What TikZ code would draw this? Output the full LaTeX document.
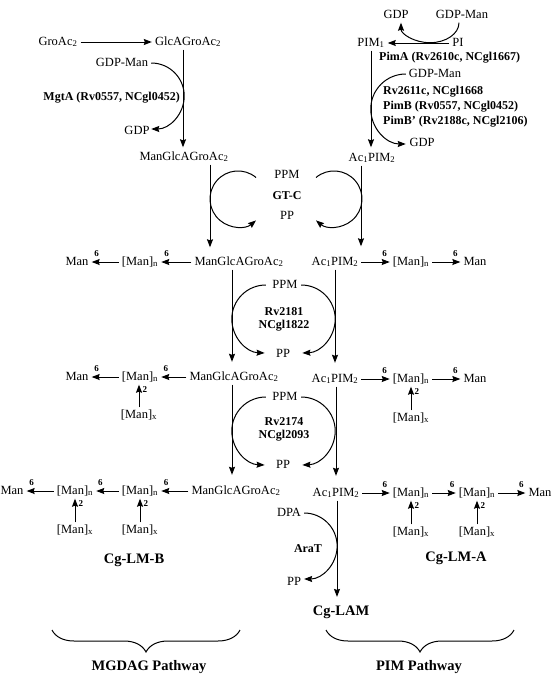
\documentclass[tikz,border=0pt]{standalone}
\usepackage{fontspec}
\setmainfont{Liberation Serif}
\usetikzlibrary{arrows.meta,decorations.pathreplacing,calc}
\begin{document}
\begin{tikzpicture}[x=1pt,y=1pt,
  t/.style={font=\fontsize{12.5}{14}\selectfont, inner xsep=3pt, inner ysep=2pt, text height=8.5pt, text depth=2.5pt},
  b/.style={font=\fontsize{12}{13.5}\selectfont\bfseries, inner xsep=0pt, inner ysep=2pt, text height=8.5pt, text depth=2.5pt},
  big/.style={font=\fontsize{14.5}{16}\selectfont\bfseries, inner sep=2pt},
  lab/.style={font=\fontsize{9}{10}\selectfont\bfseries, inner sep=1pt},
  arr/.style={line width=1pt, -{Stealth[length=8pt,width=6pt,inset=1pt]}},
  brc/.style={line width=1pt, decorate, decoration={brace,mirror,amplitude=22pt}}
]
\useasboundingbox (0,0) rectangle (552,-675);

% ---------- top left ----------
\node[t] (groac) at (58,-42) {GroAc\textsubscript{2}};
\node[t] (glca) at (188,-42) {GlcAGroAc\textsubscript{2}};
\node[t] (gdpman1) at (122,-63) {GDP-Man};
\node[t] (gdp1) at (137,-131) {GDP};
\node[b, anchor=east] (mgta) at (180,-97) {MgtA (Rv0557, NCgl0452)};
\node[t] (mang1) at (184,-157) {ManGlcAGroAc\textsubscript{2}};

\draw[arr] (groac.east) -- (glca.west);
\draw[arr, shorten >=2pt] ([xshift=-5pt]glca.south) -- ([xshift=-5pt]glca.south |- mang1.north);
\draw[arr] (gdpman1.east) arc[start angle=90, end angle=-90, radius=33];

% ---------- top right ----------
\node[t] (gdp2) at (396,-15) {GDP};
\node[t] (gdpman2) at (462,-15) {GDP-Man};
\node[t] (pim1) at (371,-43) {PIM\textsubscript{1}};
\node[t] (pi) at (458,-43) {PI};
\node[b, anchor=west] (pima) at (379,-57) {PimA (Rv2610c, NCgl1667)};
\node[t] (gdpman3) at (435,-74) {GDP-Man};
\node[b, anchor=west] (rv2611) at (383,-91) {Rv2611c, NCgl1668};
\node[b, anchor=west] (pimb) at (383,-106) {PimB (Rv0557, NCgl0452)};
\node[b, anchor=west] (pimbb) at (383,-121) {PimB’ (Rv2188c, NCgl2106)};
\node[t] (gdp3) at (422,-143) {GDP};
\node[t] (acpim1) at (372,-158) {Ac\textsubscript{1}PIM\textsubscript{2}};

\draw[arr] (pi.west) -- (pim1.east);
\draw[arr] ([xshift=-3pt]gdpman2.south) arc[start angle=0, end angle=-180, x radius=29, y radius=20];
\draw[arr, shorten >=3pt] (pim1.south) -- (pim1.south |- acpim1.north);
\draw[arr] (gdpman3.west) arc[start angle=90, end angle=270, radius=35];

% ---------- GT-C ----------
\node[t] (ppm1) at (287,-175) {PPM};
\node[b] (gtc) at (287,-196) {GT-C};
\node[t] (pp1) at (287,-216) {PP};
\coordinate (gta) at (256,-177.5);
\coordinate (gtb) at (316,-177.5);
\draw[arr] (gta) arc[start angle=50, end angle=310, radius=28];
\draw[arr] (gtb) arc[start angle=130, end angle=-130, radius=28];

% ---------- row 2 ----------
\node[t] (mang2) at (239,-262) {ManGlcAGroAc\textsubscript{2}};
\node[t] (mann2l) at (140,-262) {[Man]\textsubscript{n}};
\node[t] (man2l) at (77,-262) {Man};
\node[t] (acpim2) at (335,-262) {Ac\textsubscript{1}PIM\textsubscript{2}};
\node[t] (mann2r) at (411,-262) {[Man]\textsubscript{n}};
\node[t] (man2r) at (475,-262) {Man};

\draw[arr, shorten >=7pt] ([xshift=26pt]mang1.south) -- ([xshift=26pt]mang1.south |- mang2.north);
\draw[arr, shorten >=8pt] ([xshift=-11pt]acpim1.south) -- ([xshift=-11pt]acpim1.south |- acpim2.north);
\draw[arr] (mang2.west) -- (mann2l.east) node[lab, pos=0.82, above=3.5pt] {6};
\draw[arr] (mann2l.west) -- (man2l.east) node[lab, pos=0.82, above=3.5pt] {6};
\draw[arr] (acpim2.east) -- (mann2r.west) node[lab, pos=0.82, above=3.5pt] {6};
\draw[arr] (mann2r.east) -- (man2r.west) node[lab, pos=0.82, above=3.5pt] {6};

% ---------- Rv2181 ----------
\node[t] (ppm2) at (285,-285) {PPM};
\node[b] (rv2181) at (284,-312) {Rv2181};
\node[b] (ncgl1822) at (284,-325) {NCgl1822};
\node[t] (pp2) at (283,-354) {PP};
\draw[arr] ([xshift=-3.5pt]ppm2.west) arc[start angle=90, end angle=268, radius=34];
\draw[arr] ([xshift=0.5pt]ppm2.east) arc[start angle=90, end angle=-88, radius=34];

% ---------- row 3 ----------
\node[t] (mang3) at (234,-377) {ManGlcAGroAc\textsubscript{2}};
\node[t] (mann3l) at (140,-377) {[Man]\textsubscript{n}};
\node[t] (man3l) at (77,-377) {Man};
\node[t] (manx3l) at (139,-415) {[Man]\textsubscript{x}};
\node[t] (acpim3) at (335,-379) {Ac\textsubscript{1}PIM\textsubscript{2}};
\node[t] (mann3r) at (411,-379) {[Man]\textsubscript{n}};
\node[t] (man3r) at (475,-379) {Man};
\node[t] (manx3r) at (411,-418) {[Man]\textsubscript{x}};

\draw[arr, shorten >=7.5pt] ([xshift=-7pt]mang2.south) -- ([xshift=-7pt]mang2.south |- mang3.north);
\draw[arr, shorten >=8.5pt] (acpim2.south) -- (acpim2.south |- acpim3.north);
\draw[arr] (mang3.west) -- (mann3l.east) node[lab, pos=0.82, above=3.5pt] {6};
\draw[arr] (mann3l.west) -- (man3l.east) node[lab, pos=0.82, above=3.5pt] {6};
\draw[arr] (acpim3.east) -- (mann3r.west) node[lab, pos=0.82, above=3.5pt] {6};
\draw[arr] (mann3r.east) -- (man3r.west) node[lab, pos=0.82, above=3.5pt] {6};
\draw[arr] (manx3l.north) -- (manx3l.north |- mann3l.south) node[lab, pos=0.78, right=2pt] {2};
\draw[arr] (manx3r.north) -- (manx3r.north |- mann3r.south) node[lab, pos=0.78, right=2pt] {2};

% ---------- Rv2174 ----------
\node[t] (ppm3) at (285,-397) {PPM};
\node[b] (rv2174) at (284,-422) {Rv2174};
\node[b] (ncgl2093) at (284,-435) {NCgl2093};
\node[t] (pp3) at (283,-465) {PP};
\draw[arr] ([xshift=-3.5pt]ppm3.west) arc[start angle=90, end angle=268, radius=34];
\draw[arr] ([xshift=0.5pt]ppm3.east) arc[start angle=90, end angle=-88, radius=34];

% ---------- row 4 ----------
\node[t] (mang4) at (236,-491) {ManGlcAGroAc\textsubscript{2}};
\node[t] (mann4b) at (140,-491) {[Man]\textsubscript{n}};
\node[t] (mann4a) at (75,-491) {[Man]\textsubscript{n}};
\node[t] (man4l) at (12,-491) {Man};
\node[t] (manx4a) at (75,-530) {[Man]\textsubscript{x}};
\node[t] (manx4b) at (140,-530) {[Man]\textsubscript{x}};
\node[t] (acpim4) at (336,-493) {Ac\textsubscript{1}PIM\textsubscript{2}};
\node[t] (mann4c) at (411,-493) {[Man]\textsubscript{n}};
\node[t] (mann4d) at (477,-493) {[Man]\textsubscript{n}};
\node[t] (man4r) at (540,-493) {Man};
\node[t] (manx4c) at (411,-532) {[Man]\textsubscript{x}};
\node[t] (manx4d) at (477,-532) {[Man]\textsubscript{x}};

\draw[arr, shorten >=8.5pt] ([xshift=-2pt]mang3.south) -- ([xshift=-2pt]mang3.south |- mang4.north);
\draw[arr, shorten >=9.5pt] ([xshift=1pt]acpim3.south) -- ([xshift=1pt]acpim3.south |- acpim4.north);
\draw[arr] (mang4.west) -- (mann4b.east) node[lab, pos=0.82, above=3.5pt] {6};
\draw[arr] (mann4b.west) -- (mann4a.east) node[lab, pos=0.82, above=3.5pt] {6};
\draw[arr] (mann4a.west) -- (man4l.east) node[lab, pos=0.82, above=3.5pt] {6};
\draw[arr] (acpim4.east) -- (mann4c.west) node[lab, pos=0.82, above=3.5pt] {6};
\draw[arr] (mann4c.east) -- (mann4d.west) node[lab, pos=0.85, above=3.5pt] {6};
\draw[arr] (mann4d.east) -- (man4r.west) node[lab, pos=0.85, above=3.5pt] {6};
\draw[arr] (manx4a.north) -- (manx4a.north |- mann4a.south) node[lab, pos=0.78, right=2pt] {2};
\draw[arr] (manx4b.north) -- (manx4b.north |- mann4b.south) node[lab, pos=0.78, right=2pt] {2};
\draw[arr] (manx4c.north) -- (manx4c.north |- mann4c.south) node[lab, pos=0.78, right=2pt] {2};
\draw[arr] (manx4d.north) -- (manx4d.north |- mann4d.south) node[lab, pos=0.78, right=2pt] {2};

\node[big] (cglmb) at (134,-560) {Cg-LM-B};
\node[big] (cglma) at (456,-558) {Cg-LM-A};

% ---------- AraT ----------
\node[t] (dpa) at (289,-513) {DPA};
\node[b] (arat) at (308,-549) {AraT};
\node[t] (pp4) at (294,-582) {PP};
\node[big] (cglam) at (341,-612) {Cg-LAM};
\draw[arr, shorten >=6.5pt] ([xshift=1pt]acpim4.south) -- ([xshift=1pt]acpim4.south |- cglam.north);
\draw[arr] (dpa.east) arc[start angle=90, end angle=-90, radius=33];

% ---------- braces ----------
\coordinate (b1a) at (52,-630);
\coordinate (b1b) at (240,-630);
\coordinate (b2a) at (326,-630);
\coordinate (b2b) at (514,-630);
\draw[brc] (b1a) -- (b1b);
\draw[brc] (b2a) -- (b2b);
\node[big] (mgdag) at (149,-667) {MGDAG Pathway};
\node[big] (pimpath) at (419,-667) {PIM Pathway};
\end{tikzpicture}
\end{document}
